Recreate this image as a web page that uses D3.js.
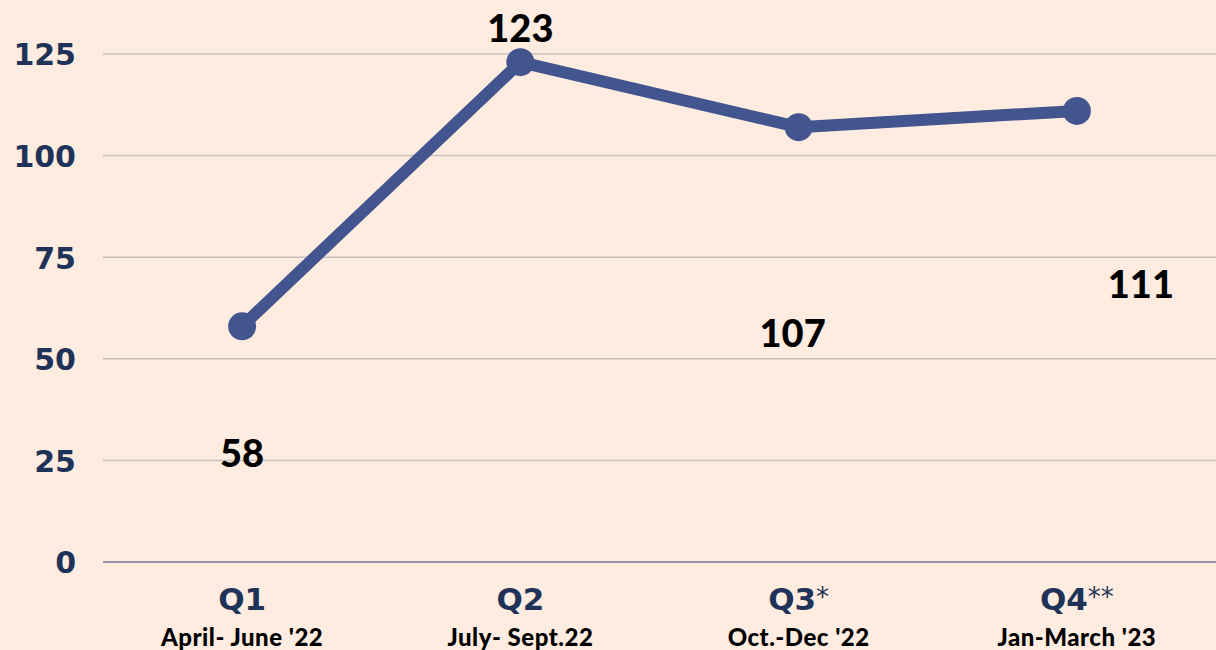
<!DOCTYPE html>
<html>
    <head>
        <script src="https://cdn.jsdelivr.net/npm/d3@7"></script>
        <style>
            body { margin: 0; background: #FEECE0; }
            svg { display: block; }
        </style>
    </head>
    <body>
        <svg id="chart" width="1216" height="650"></svg>
        <script>
            // Data
            var quarters = ["Q1", "Q2", "Q3*", "Q4**"];
            var periods = ["April- June '22", "July- Sept.22", "Oct.-Dec '22", "Jan-March '23"];
            var values = [58, 123, 107, 111];
            var yTicks = [0, 25, 50, 75, 100, 125];
            // where each value label sits, in data units
            var labelY = [23.4, 128, 53, 65];
            var labelDx = [0, 0, -6, 64];

            var margin = {left: 103, right: 0, top: 54, bottom: 88};
            var W = 1216, H = 650;
            var svg = d3.select("svg#chart");

            var x = d3.scaleBand().domain(quarters).range([margin.left, W - margin.right]);
            var y = d3.scaleLinear().domain([0, 125]).range([H - margin.bottom, margin.top]);
            var cx = function(q) { return x(q) + x.bandwidth() / 2; };

            // Gridlines
            svg.append("g").selectAll("line").data(yTicks).enter().append("line")
                .attr("x1", margin.left).attr("x2", W)
                .attr("y1", function(d) { return y(d); }).attr("y2", function(d) { return y(d); })
                .attr("stroke", function(d) { return d === 0 ? "#6E7A94" : "#C9C0BE"; })
                .attr("stroke-width", 1.5);

            // Y axis labels
            var yAxis = d3.axisLeft(y).tickValues(yTicks).tickSize(0).tickPadding(0);
            var gy = svg.append("g").attr("transform", "translate(76,0)").call(yAxis);
            gy.select(".domain").remove();
            gy.selectAll("text").attr("fill", "#1F3358").attr("font-family", "DejaVu Sans")
                .attr("font-weight", "bold").attr("font-size", 30).attr("dy", "0.36em");

            // X axis labels
            var xAxis = d3.axisBottom(x).tickSize(0).tickPadding(0);
            var gx = svg.append("g").attr("transform", "translate(0,610)").call(xAxis);
            gx.select(".domain").remove();
            gx.selectAll("text").attr("dy", 0).attr("fill", "#1F3358").attr("font-family", "DejaVu Sans")
                .attr("font-weight", "bold").attr("font-size", 31)
                .each(function(d) {
                    var t = d3.select(this), q = d.replace(/\*/g, ""), s = d.slice(q.length);
                    t.text(q);
                    if (s) t.append("tspan").attr("font-weight", "normal").attr("font-size", 26).attr("dy", -4).text(s);
                });
            gx.selectAll(".tick").append("text")
                .attr("y", 36).attr("fill", "#000").attr("text-anchor", "middle")
                .attr("font-family", "Lato").attr("font-weight", 900).attr("font-size", 24)
                .attr("letter-spacing", 0.5)
                .text(function(d, i) { return periods[i]; });

            // Line
            svg.append("path").datum(values)
                .attr("fill", "none").attr("stroke", "#43558F").attr("stroke-width", 12)
                .attr("stroke-linejoin", "round")
                .attr("d", d3.line().x(function(d, i) { return cx(quarters[i]); }).y(function(d) { return y(d); }));

            // Points
            svg.append("g").selectAll("circle").data(values).enter().append("circle")
                .attr("cx", function(d, i) { return cx(quarters[i]); })
                .attr("cy", function(d) { return y(d); })
                .attr("r", 14).attr("fill", "#43558F");

            // Value labels
            svg.append("g").selectAll("text").data(values).enter().append("text")
                .attr("x", function(d, i) { return cx(quarters[i]) + labelDx[i]; })
                .attr("y", function(d, i) { return y(labelY[i]); })
                .attr("text-anchor", "middle").attr("font-family", "Lato").attr("font-weight", 900)
                .attr("font-size", 38).attr("fill", "#000")
                .text(function(d) { return d; });
        </script>
    </body>
</html>
